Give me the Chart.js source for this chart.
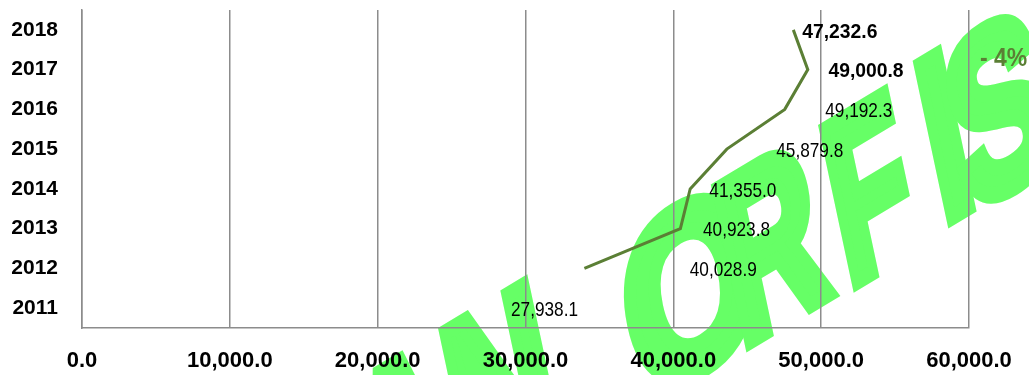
<!DOCTYPE html>
<html>
<head>
<meta charset="utf-8">
<script src="https://cdn.jsdelivr.net/npm/chart.js@4.4.1/dist/chart.umd.min.js"></script>
<style>
  html, body { margin: 0; padding: 0; background: #ffffff; }
  #wrap { width: 1029px; height: 375px; }
</style>
</head>
<body>
<div id="wrap"><canvas id="c" width="1029" height="375"></canvas></div>
<script>
// ---- data ----
const categories = ['2011', '2012', '2013', '2014', '2015', '2016', '2017', '2018'];
const values = [27938.1, 40028.9, 40923.8, 41355.0, 45879.8, 49192.3, 49000.8, 47232.6];
// 2-period moving-average trend line (none for 2011)
const trendValues = [null, 33983.5, 40476.4, 41139.4, 43617.4, 47536.1, 49096.6, 48116.7];
const boldLabels = [false, false, false, false, false, false, true, true];
const xTicks = [0, 10000, 20000, 30000, 40000, 50000, 60000];
const changeText = '- 4%';
const watermarkText = 'ANORFIS';

const OLIVE = '#5b7f35';
const GRID = '#8c8c8c';
const SANS = '"Liberation Sans", Arial, sans-serif';

const fmt = v => Number(v).toLocaleString('en-US', { minimumFractionDigits: 1, maximumFractionDigits: 1 });

const watermarkPlugin = {
  id: 'watermark',
  beforeDraw(chart) {
    const ctx = chart.ctx;
    ctx.save();
    ctx.fillStyle = '#ffffff';
    ctx.fillRect(0, 0, chart.width, chart.height);
    // slanted word-art: letters advance up-right, stems lean slightly left
    const size = 226;
    const a = 31 * Math.PI / 180, lean = 12 * Math.PI / 180;
    // [centre x, centre y, horizontal squeeze] for each letter of the word-art
    const layout = [[405, 440, 0.7], [500, 382, 0.7], [690, 286, 0.85], [770, 240, 0.66],
                    [868, 186, 0.62], [944, 133, 0.68], [998, 106, 0.72]];
    ctx.font = 'bold ' + size + 'px ' + SANS;
    ctx.fillStyle = '#66ff66';
    ctx.strokeStyle = '#66ff66';
    ctx.lineWidth = 16;
    ctx.lineJoin = 'miter';
    ctx.textAlign = 'center';
    ctx.textBaseline = 'alphabetic';
    watermarkText.split('').forEach((ch, i) => {
      const [cx, cy, kx] = layout[i];
      ctx.setTransform(kx * Math.cos(a), -kx * Math.sin(a), Math.sin(lean), Math.cos(lean), cx, cy);
      ctx.fillText(ch, 0, 0.358 * size);
      ctx.strokeText(ch, 0, 0.358 * size);
    });
    ctx.restore();
  }
};

const labelPlugin = {
  id: 'valueLabels',
  afterDatasetsDraw(chart) {
    const ctx = chart.ctx;
    const meta = chart.getDatasetMeta(0);
    ctx.save();
    ctx.textAlign = 'left';
    ctx.textBaseline = 'middle';
    ctx.fillStyle = '#000000';
    meta.data.forEach((el, i) => {
      const bold = boldLabels[i];
      ctx.save();
      ctx.translate(el.x + (bold ? 22 : 16), el.y + 2);
      ctx.scale(bold ? 0.92 : 0.82, 1);
      ctx.font = (bold ? 'bold ' : '') + '21px ' + SANS;
      ctx.fillText(fmt(values[i]), 0, 0);
      ctx.restore();
    });
    // change indicator
    ctx.save();
    ctx.translate(980, 59);
    ctx.scale(0.92, 1);
    ctx.fillStyle = OLIVE;
    ctx.font = 'bold 25px ' + SANS;
    ctx.fillText(changeText, 0, 0);
    ctx.restore();
    ctx.restore();
  }
};

new Chart(document.getElementById('c'), {
  type: 'bar',
  data: {
    labels: categories,
    datasets: [
      {
        type: 'bar',
        indexAxis: 'y',
        data: values,
        backgroundColor: 'rgba(0,0,0,0)',
        borderWidth: 0,
        order: 2
      },
      {
        type: 'line',
        indexAxis: 'y',
        data: trendValues,
        borderColor: OLIVE,
        borderWidth: 3,
        pointRadius: 0,
        tension: 0,
        fill: false,
        spanGaps: false,
        order: 1
      }
    ]
  },
  options: {
    indexAxis: 'y',
    responsive: false,
    animation: false,
    devicePixelRatio: 1,
    layout: { autoPadding: false, padding: { left: 0, right: 60, top: 10, bottom: 0 } },
    plugins: {
      legend: { display: false },
      tooltip: { enabled: false },
      title: { display: false }
    },
    scales: {
      x: {
        type: 'linear',
        position: 'bottom',
        min: 0,
        max: 60000,
        afterBuildTicks(scale) { scale.ticks = xTicks.map(v => ({ value: v })); },
        afterFit(scale) {
          scale.height = 47;
          scale.paddingLeft = 0; scale.paddingRight = 0;
        },
        ticks: {
          callback: v => fmt(v),
          color: '#000000',
          font: { family: SANS, size: 22, weight: 'bold' },
          padding: 20,
          maxRotation: 0,
          autoSkip: false
        },
        grid: { color: GRID, lineWidth: 1.5, drawTicks: false },
        border: { color: GRID, width: 1.5 }
      },
      y: {
        type: 'category',
        reverse: true,
        afterFit(scale) {
          scale.width = 82;
          scale.paddingTop = 0; scale.paddingBottom = 0;
        },
        ticks: {
          color: '#000000',
          font: { family: SANS, size: 21, weight: 'bold' },
          padding: 24
        },
        grid: { display: false, drawTicks: false },
        border: { color: GRID, width: 1.5 }
      }
    }
  },
  plugins: [watermarkPlugin, labelPlugin]
});
</script>
</body>
</html>
